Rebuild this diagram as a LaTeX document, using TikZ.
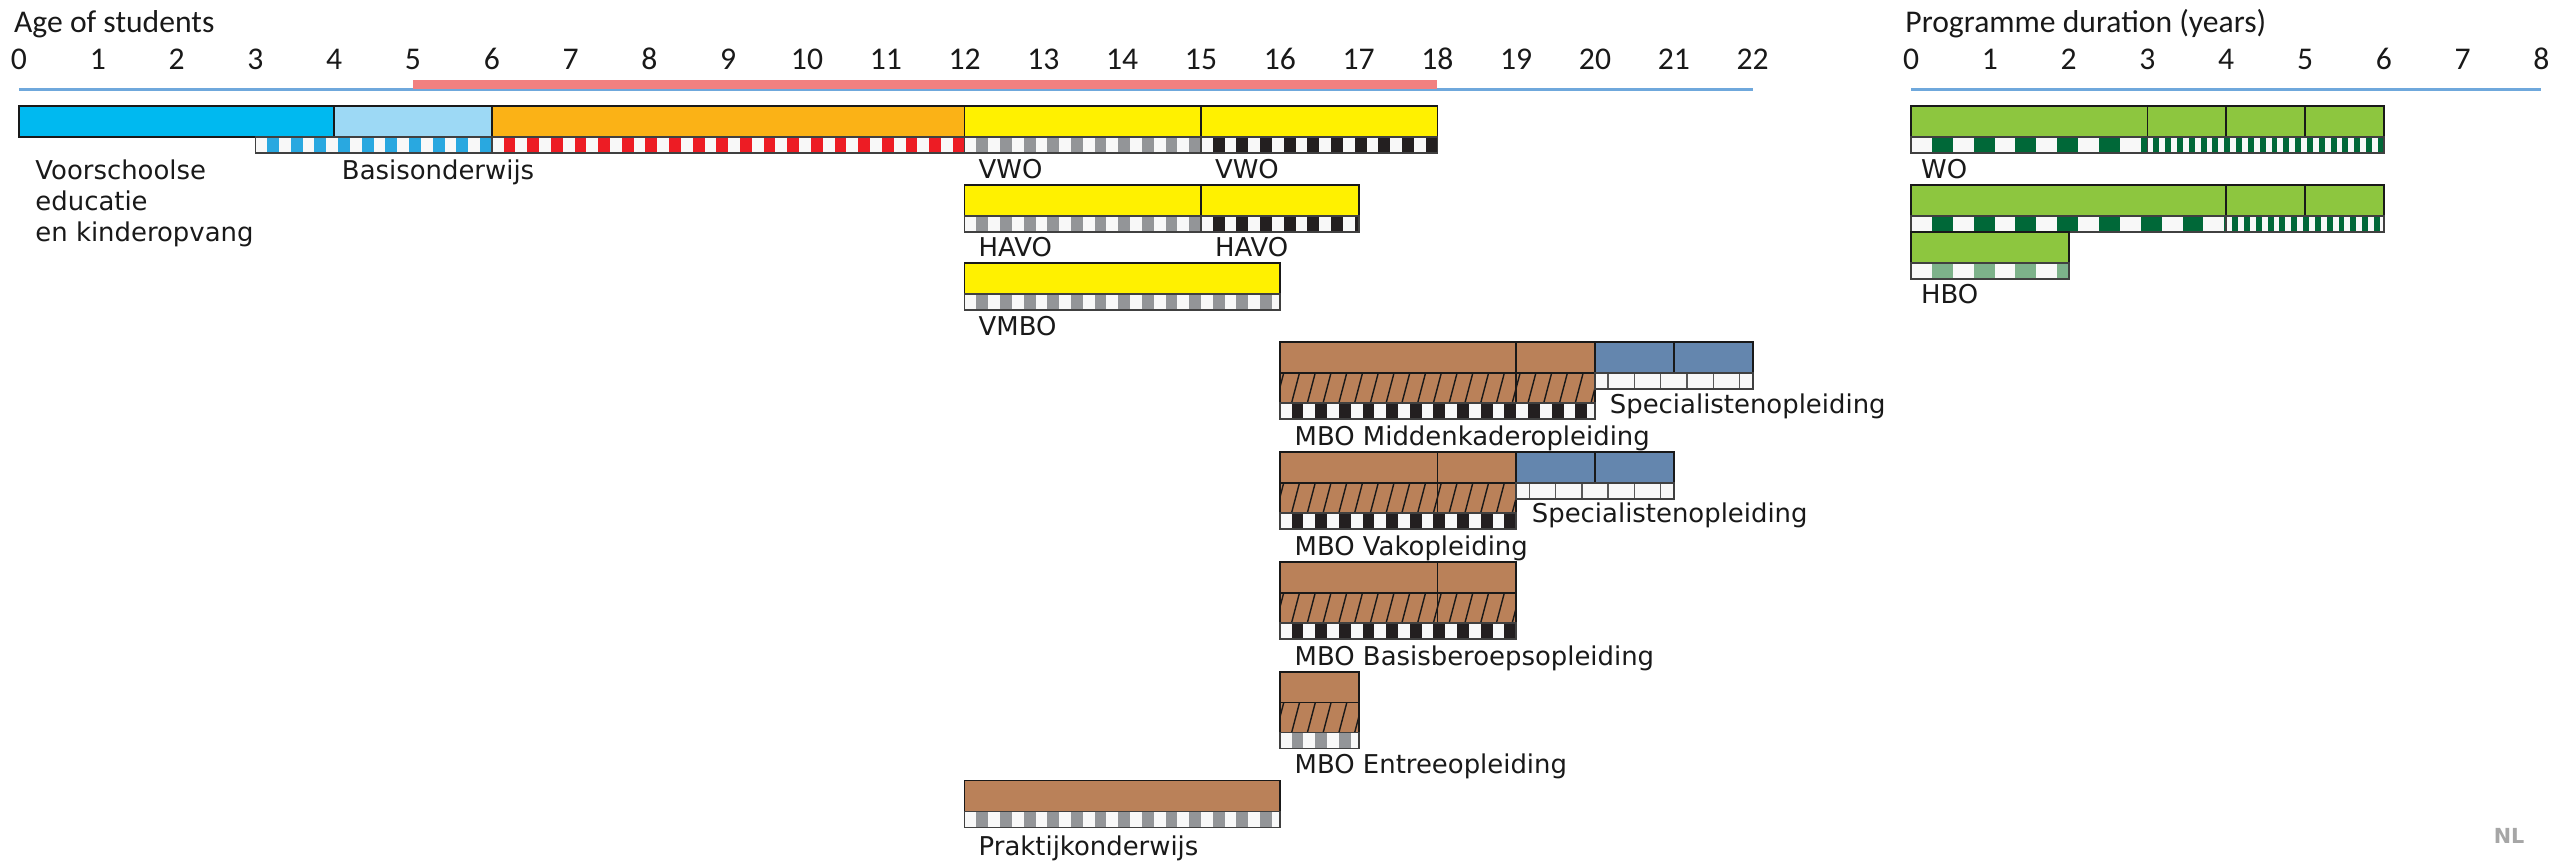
\documentclass[tikz,border=0pt]{standalone}
\usepackage{fontspec}
\setmainfont{DejaVu Sans}
\newfontfamily\axisfont{Carlito}
\definecolor{preblue}{RGB}{0,185,240}
\definecolor{baseblue}{RGB}{157,217,245}
\definecolor{primorange}{RGB}{251,178,22}
\definecolor{secyellow}{RGB}{255,241,0}
\definecolor{mbobrown}{RGB}{186,129,89}
\definecolor{specblue}{RGB}{100,134,174}
\definecolor{higreen}{RGB}{141,198,63}
\definecolor{darkgreen}{RGB}{0,104,56}
\definecolor{palegreen}{RGB}{125,178,138}
\definecolor{compulsory}{RGB}{242,128,128}
\definecolor{axisblue}{RGB}{111,168,220}
\definecolor{stripeblue}{RGB}{41,168,224}
\definecolor{stripered}{RGB}{237,28,36}
\definecolor{stripegray}{RGB}{147,149,152}
\definecolor{stripeblack}{RGB}{35,31,32}
\definecolor{offwhite}{RGB}{248,248,248}

% striped strip: from, to, top, colour, period
\newcommand{\stripeband}[5]{%
  \begin{scope}
    \clip (#1,#3) rectangle (#2,#3+16);
    \fill[offwhite] (#1,#3) rectangle (#2,#3+16);
    \pgfmathtruncatemacro{\nst}{(#2-#1)/#5}
    \foreach \k in {0,...,\nst}
      \fill[#4] ({#1+(\k+0.5)*#5},#3) rectangle ({#1+(\k+1)*#5},#3+16);
  \end{scope}
  \draw[band] (#1,#3) rectangle (#2,#3+16);
}
% hatched strip: from, to, top
\newcommand{\hatchband}[3]{%
  \fill[mbobrown] (#1,#3) rectangle (#2,#3+30);
  \begin{scope}
    \clip (#1,#3) rectangle (#2,#3+30);
    \pgfmathtruncatemacro{\nh}{(#2-#1)/0.2+1}
    \foreach \k in {0,...,\nh}
      \draw[hatchline] ({#1+\k*0.2-0.05},#3+30) -- ({#1+\k*0.2+0.05},#3);
  \end{scope}
  \draw[bar] (#1,#3) rectangle (#2,#3+30);
}
% white strip under specialist courses: from, to, top
\newcommand{\specband}[3]{%
  \fill[offwhite] (#1,#3) rectangle (#2,#3+16);
  \pgfmathtruncatemacro{\nsp}{3*(#2-#1)}
  \foreach \k in {1,...,\nsp}
    \draw[black!65, line width=0.4pt] ({#1+(\k-0.5)/3},#3) -- ({#1+(\k-0.5)/3},#3+16);
  \draw[band] (#1,#3) rectangle (#2,#3+16);
}

\begin{document}
\begin{tikzpicture}[x=0.788cm, y=-0.01cm,
    bar/.style={draw=black!90, line width=0.5pt},
    band/.style={draw=black!75, line width=0.5pt},
    hatchline/.style={draw=black!90, line width=0.4pt},
    lbl/.style={anchor=base west, inner sep=0pt, text=black!90,
      font=\fontsize{7.37}{9}\selectfont},
    axislbl/.style={anchor=base, inner sep=0pt, text=black!90,
      font=\axisfont\fontsize{9}{11}\selectfont},
    axistitle/.style={axislbl, anchor=base west},
    axisline/.style={draw=axisblue, line width=0.85pt}]
  \useasboundingbox (-0.241,0) rectangle (32.157,864);

  % age axis
  \node[axistitle] (agetitle) at (-0.07,33) {Age of students};
  \foreach \a in {0,...,22}
    \node[axislbl] (age\a) at (\a,70) {\a};
  \draw[axisline] (0,90) -- (22,90);
  \draw[compulsory, line width=2.56pt] (5,84.5) -- (18,84.5);

  % pre-school, primary, VWO
  \foreach \a/\b/\c in {0/4/preblue, 4/6/baseblue, 6/12/primorange,
                        12/15/secyellow, 15/18/secyellow}
    \draw[bar, fill=\c] (\a,106) rectangle (\b,137);
  \stripeband{3}{6}{137}{stripeblue}{0.3}
  \stripeband{6}{12}{137}{stripered}{0.3}
  \stripeband{12}{15}{137}{stripegray}{0.3}
  \stripeband{15}{18}{137}{stripeblack}{0.3}
  \node[lbl] (voor1) at (0.2,180) {Voorschoolse};
  \node[lbl] (voor2) at (0.2,211) {educatie};
  \node[lbl] (voor3) at (0.2,242) {en kinderopvang};
  \node[lbl] (basis) at (4.09,180) {Basisonderwijs};
  \node[lbl] (vwoa) at (12.17,179) {VWO};
  \node[lbl] (vwob) at (15.17,179) {VWO};

  % HAVO and VMBO
  \foreach \a/\b in {12/15, 15/17}
    \draw[bar, fill=secyellow] (\a,185) rectangle (\b,216);
  \stripeband{12}{15}{216}{stripegray}{0.3}
  \stripeband{15}{17}{216}{stripeblack}{0.3}
  \node[lbl] (havoa) at (12.17,257) {HAVO};
  \node[lbl] (havob) at (15.17,257) {HAVO};
  \draw[bar, fill=secyellow] (12,263) rectangle (16,294);
  \stripeband{12}{16}{294}{stripegray}{0.3}
  \node[lbl] (vmbo) at (12.17,336) {VMBO};

  % MBO
  \foreach \a/\b in {16/19, 19/20} {
    \draw[bar, fill=mbobrown] (\a,342) rectangle (\b,373);
    \hatchband{\a}{\b}{373}
  }
  \stripeband{16}{20}{403}{stripeblack}{0.3}
  \foreach \a/\b in {20/21, 21/22}
    \draw[bar, fill=specblue] (\a,342) rectangle (\b,373);
  \specband{20}{22}{373}
  \node[lbl] (speca) at (20.18,414) {Specialistenopleiding};
  \node[lbl] (midden) at (16.18,446) {MBO Middenkaderopleiding};

  \foreach \a/\b in {16/18, 18/19} {
    \draw[bar, fill=mbobrown] (\a,452) rectangle (\b,483);
    \hatchband{\a}{\b}{483}
  }
  \stripeband{16}{19}{513}{stripeblack}{0.3}
  \foreach \a/\b in {19/20, 20/21}
    \draw[bar, fill=specblue] (\a,452) rectangle (\b,483);
  \specband{19}{21}{483}
  \node[lbl] (specb) at (19.19,523) {Specialistenopleiding};
  \node[lbl] (vak) at (16.18,556) {MBO Vakopleiding};

  \foreach \a/\b in {16/18, 18/19} {
    \draw[bar, fill=mbobrown] (\a,562) rectangle (\b,593);
    \hatchband{\a}{\b}{593}
  }
  \stripeband{16}{19}{623}{stripeblack}{0.3}
  \node[lbl] (bbl) at (16.18,666) {MBO Basisberoepsopleiding};

  \draw[bar, fill=mbobrown] (16,672) rectangle (17,703);
  \hatchband{16}{17}{703}
  \stripeband{16}{17}{733}{stripegray}{0.3}
  \node[lbl] (entree) at (16.18,774) {MBO Entreeopleiding};

  \draw[bar, fill=mbobrown] (12,781) rectangle (16,812);
  \stripeband{12}{16}{812}{stripegray}{0.3}
  \node[lbl] (prakt) at (12.17,856) {Praktijkonderwijs};

  % higher education
  \begin{scope}[shift={(24.01,0)}]
    \node[axistitle] (durtitle) at (-0.08,33) {Programme duration (years)};
    \foreach \d in {0,...,8}
      \node[axislbl] (dur\d) at (\d,70) {\d};
    \draw[axisline] (0,90) -- (8,90);
    \foreach \a/\b in {0/3, 3/4, 4/5, 5/6}
      \draw[bar, fill=higreen] (\a,106) rectangle (\b,137);
    \stripeband{0}{3}{137}{darkgreen}{0.53}
    \stripeband{3}{6}{137}{darkgreen}{0.15}
    \node[lbl] (wo) at (0.12,179) {WO};
    \foreach \a/\b in {0/4, 4/5, 5/6}
      \draw[bar, fill=higreen] (\a,185) rectangle (\b,216);
    \stripeband{0}{4}{216}{darkgreen}{0.53}
    \stripeband{4}{6}{216}{darkgreen}{0.15}
    \draw[bar, fill=higreen] (0,232) rectangle (2,263);
    \stripeband{0}{2}{263}{palegreen}{0.53}
    \node[lbl] (hbo) at (0.12,304) {HBO};
  \end{scope}

  \node[inner sep=0pt, text=black!35, font=\bfseries\fontsize{5.9}{7}\selectfont]
    (nl) at (31.60,836) {NL};
\end{tikzpicture}
\end{document}
